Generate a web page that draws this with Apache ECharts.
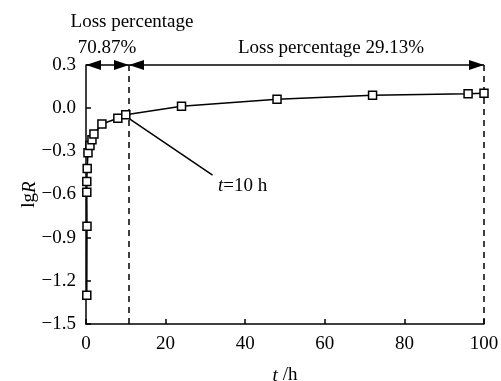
<!DOCTYPE html>
<html><head><meta charset="utf-8">
<script src="https://cdn.jsdelivr.net/npm/echarts@6/dist/echarts.min.js"></script>
<style>html,body{margin:0;padding:0;background:#fff}#c{width:501px;height:381px}</style>
</head><body><div id="c"></div>
<script>
var times = [0.2, 0.25, 0.2, 0.2, 0.3, 0.5, 1, 1.5, 2, 4, 8, 10, 24, 48, 72, 96, 100];
var lgR   = [-1.30, -0.82, -0.585, -0.51, -0.42, -0.31, -0.26, -0.22, -0.18, -0.11, -0.07, -0.045, 0.013, 0.062, 0.09, 0.10, 0.103];
var xTicks = [0, 20, 40, 60, 80, 100];
var yTicks = [-1.5, -1.2, -0.9, -0.6, -0.3, 0.0, 0.3];
var splitT = 10.8;

var FONT = 'Liberation Serif';
var FS = 19;
var chart = echarts.init(document.getElementById('c'));
var pts = times.map(function (t, i) { return [t, lgR[i]]; });
var LEFT_TRI = 'path://M0,5 L14,0 L14,10 Z';
var RIGHT_TRI = 'path://M14,5 L0,0 L0,10 Z';
function arrowHead(x, y, dir) {
  return {coord: [x, y], symbol: dir < 0 ? LEFT_TRI : RIGHT_TRI, symbolSize: [15, 10],
    symbolOffset: [dir < 0 ? 7.5 : -7.5, 0], label: {show: false},
    itemStyle: {color: '#000', borderWidth: 0}};
}
var yTop = yTicks[yTicks.length - 1], yBot = yTicks[0];
chart.setOption({
  animation: false,
  grid: {left: 86, right: 17, top: 65, bottom: 57, outerBoundsMode: 'none', containLabel: false},
  xAxis: {
    type: 'value', min: xTicks[0], max: xTicks[xTicks.length - 1], interval: 20,
    name: '{i|t} /h', nameLocation: 'middle', nameGap: 42, nameMoveOverlap: false,
    nameTextStyle: {fontFamily: FONT, fontSize: FS, color: '#000', rich: {i: {fontStyle: 'italic', fontFamily: FONT, fontSize: FS, color: '#000'}}},
    axisLine: {onZero: false, lineStyle: {color: '#000', width: 1.5}},
    axisTick: {inside: true, length: 5, lineStyle: {color: '#000', width: 1.5}},
    axisLabel: {fontFamily: FONT, fontSize: FS, color: '#000', margin: 11},
    splitLine: {show: false}
  },
  yAxis: {
    type: 'value', min: yBot, max: yTop, interval: 0.3,
    name: 'lg{i|R}', nameLocation: 'middle', nameGap: 47, nameRotate: 90, nameMoveOverlap: false,
    nameTextStyle: {fontFamily: FONT, fontSize: FS, color: '#000', rich: {i: {fontStyle: 'italic', fontFamily: FONT, fontSize: FS, color: '#000'}}},
    axisLine: {show: true, onZero: false, lineStyle: {color: '#000', width: 1.5}},
    axisTick: {inside: true, length: 5, lineStyle: {color: '#000', width: 1.5}},
    axisLabel: {fontFamily: FONT, fontSize: FS, color: '#000', margin: 10,
      formatter: function (v) { return v.toFixed(1).replace('-', '\u2212'); }},
    splitLine: {show: false}
  },
  series: [{
    type: 'line', data: pts, symbol: 'rect', symbolSize: 8,
    itemStyle: {color: '#fff', borderColor: '#000', borderWidth: 1.5},
    lineStyle: {color: '#000', width: 1.5},
    z: 5,
    markLine: {
      silent: true, animation: false, label: {show: false},
      lineStyle: {color: '#000', width: 1.5, type: 'solid'},
      symbol: 'none',
      data: [
        [{coord: [0, yTop]}, {coord: [splitT, yTop]}],
        [{coord: [splitT, yTop]}, {coord: [100, yTop]}],
        [{coord: [splitT, yTop], lineStyle: {type: [6, 5], color: '#000', width: 1.5}}, {coord: [splitT, yBot]}],
        [{coord: [100, yTop], lineStyle: {type: [6, 5], color: '#000', width: 1.5}}, {coord: [100, yBot]}],
        [{coord: [10.2, -0.06]}, {coord: [31.8, -0.465]}]
      ]
    },
    markPoint: {
      silent: true, animation: false,
      data: [
        arrowHead(0, yTop, -1), arrowHead(splitT, yTop, 1),
        arrowHead(splitT, yTop, -1), arrowHead(100, yTop, 1),
        {coord: [32.9, -0.54], symbol: 'circle', symbolSize: 2, itemStyle: {color: 'rgba(255,255,255,0)', borderWidth: 0},
          label: {show: true, position: 'right', distance: 0, fontFamily: FONT, fontSize: FS, color: '#000',
            formatter: '{i|t}=10 h', rich: {i: {fontStyle: 'italic', fontFamily: FONT, fontSize: FS, color: '#000'}}}}
      ]
    }
  }],
  graphic: [
    {type: 'text', x: 132, y: 22, style: {text: 'Loss percentage', font: FS + 'px "Liberation Serif"', fill: '#000', textAlign: 'center', textVerticalAlign: 'middle'}},
    {type: 'text', x: 107, y: 48, style: {text: '70.87%', font: FS + 'px "Liberation Serif"', fill: '#000', textAlign: 'center', textVerticalAlign: 'middle'}},
    {type: 'text', x: 331, y: 48, style: {text: 'Loss percentage 29.13%', font: FS + 'px "Liberation Serif"', fill: '#000', textAlign: 'center', textVerticalAlign: 'middle'}}
  ]
});
</script></body></html>
